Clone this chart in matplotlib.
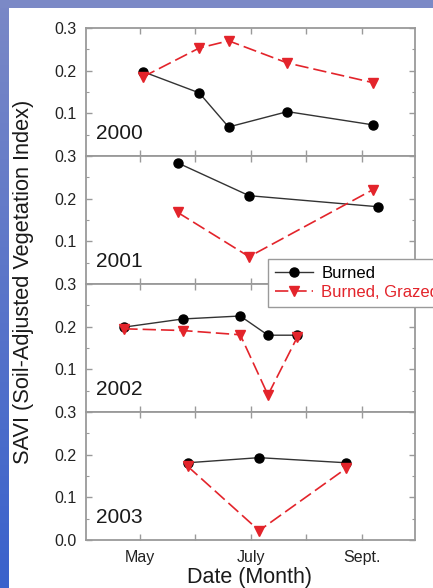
import matplotlib.pyplot as plt
import numpy as np
from matplotlib.colors import LinearSegmentedColormap

plt.rcParams['font.family'] = ['Liberation Sans', 'DejaVu Sans']

# month as number (5 = May, 7 = July, 9 = Sept.)
years = ['2000', '2001', '2002', '2003']

burned_x = [[5.05, 6.07, 6.60, 7.66, 9.20],
            [5.68, 6.97, 9.30],
            [4.72, 5.77, 6.81, 7.31, 7.84],
            [5.86, 7.15, 8.72]]
burned_y = [[0.198, 0.148, 0.068, 0.104, 0.073],
            [0.284, 0.207, 0.181],
            [0.199, 0.218, 0.225, 0.180, 0.180],
            [0.181, 0.193, 0.181]]

grazed_x = [[5.05, 6.07, 6.60, 7.66, 9.20],
            [5.68, 6.97, 9.20],
            [4.72, 5.77, 6.81, 7.31, 7.84],
            [5.86, 7.15, 8.72]]
grazed_y = [[0.185, 0.253, 0.270, 0.218, 0.172],
            [0.168, 0.064, 0.221],
            [0.195, 0.191, 0.181, 0.040, 0.176],
            [0.173, 0.022, 0.168]]

month_ticks = [5, 6, 7, 8, 9]
month_labels = ['May', '', 'July', '', 'Sept.']

W, H = 433, 588
fig = plt.figure(figsize=(W / 100, H / 100), dpi=100)
fig.patch.set_facecolor('white')

# slide background bands
axb = fig.add_axes([0, 0, 9 / W, 1])
grad = np.linspace(0, 1, 100).reshape(-1, 1)
cm = LinearSegmentedColormap.from_list('bg', ['#7a88c6', '#3a62cc'])
axb.imshow(grad, aspect='auto', cmap=cm, extent=[0, 1, 0, 1], origin='upper')
axb.axis('off')
axt = fig.add_axes([0, 1 - 8 / H, 1, 8 / H])
axt.set_facecolor('#7b89c6')
axt.set_xticks([]); axt.set_yticks([])
for s in axt.spines.values():
    s.set_visible(False)

left, right = 86 / W, 415 / W
top_px, panel_px = 28, 128
red = '#e3242b'
spine_c = '#9a9a9a'

axes = []
for i, yr in enumerate(years):
    bottom = 1 - (top_px + (i + 1) * panel_px) / H
    ax = fig.add_axes([left, bottom, right - left, panel_px / H])
    axes.append(ax)
    ax.plot(burned_x[i], burned_y[i], color='#333333', lw=1.0,
            marker='o', ms=6.5, mfc='black', mec='black', label='Burned')
    ax.plot(grazed_x[i], grazed_y[i], color=red, lw=1.2, dashes=(8, 3),
            marker='v', ms=7, mfc=red, mec=red, label='Burned, Grazed')
    ax.set_xlim(4.03, 9.96)
    ax.set_ylim(0, 0.3)
    ax.set_xticks(month_ticks)
    ax.set_yticks([0, 0.1, 0.2, 0.3])
    ax.set_yticks([0.05, 0.15, 0.25], minor=True)
    if i == 3:
        ax.set_yticklabels(['0.0', '0.1', '0.2', '0.3'])
        ax.set_xticklabels(month_labels)
    else:
        ax.set_yticklabels(['', '0.1', '0.2', '0.3'])
        ax.set_xticklabels([])
    ax.tick_params(which='both', direction='in', top=True, right=True,
                   color=spine_c, labelsize=11.5, labelcolor='#222222')
    ax.tick_params(which='major', length=4, width=1)
    ax.tick_params(which='minor', length=2.5, width=0.8)
    ax.tick_params(axis='y', pad=7)
    ax.tick_params(axis='x', pad=7)
    for s in ax.spines.values():
        s.set_color(spine_c)
        s.set_linewidth(1.3)
    ax.text(0.03, 0.175, yr, transform=ax.transAxes, fontsize=15,
            va='center', ha='left', color='#1a1a1a')

h, l = axes[0].get_legend_handles_labels()
leg = fig.legend(h, l, loc='upper left', bbox_to_anchor=(268 / W, 1 - 259 / H),
                 fontsize=12, frameon=True, fancybox=False, framealpha=1,
                 edgecolor='#9a9a9a', handlelength=2.3, handletextpad=0.5,
                 borderaxespad=0, labelspacing=0.25, borderpad=0.4)
leg.get_frame().set_linewidth(1.0)
leg.get_texts()[0].set_color('black')
leg.get_texts()[1].set_color(red)

fig.text(24 / W, 0.5 * ((1 - 28 / H) + (1 - 540 / H)) + 2 / H,
         'SAVI (Soil-Adjusted Vegetation Index)', rotation=90,
         ha='center', va='center', fontsize=15.7, color='#1a1a1a')
fig.text(250 / W, 1 - 578 / H, 'Date (Month)', ha='center', va='center',
         fontsize=15.5, color='#1a1a1a')

fig.savefig('out.png', dpi=100)
